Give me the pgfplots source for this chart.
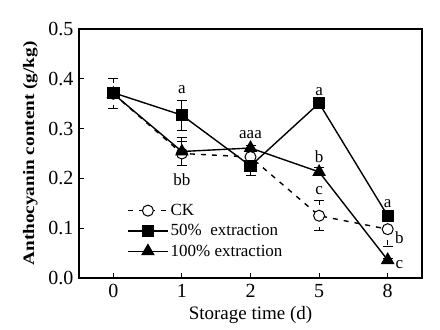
\documentclass[border=0pt]{standalone}
\usepackage{pgfplots}
\pgfplotsset{compat=1.18}
\usepackage{fontspec}
\setmainfont{Liberation Serif}
\begin{document}
\begin{tikzpicture}
\begin{axis}[
  name=ax,
  scale only axis,
  width=343pt, height=249pt,
  xmin=-0.5, xmax=4.5,
  ymin=0, ymax=0.5,
  xtick={0,1,2,3,4},
  xticklabels={0,1,2,5,8},
  ytick={0,0.1,0.2,0.3,0.4,0.5},
  yticklabel style={/pgf/number format/fixed,/pgf/number format/fixed zerofill,/pgf/number format/precision=1, xshift=-2pt},
  xticklabel style={yshift=-3pt},
  /pgf/number format/assume math mode=true,
  tick label style={font=\fontsize{20}{22}\selectfont},
  tick align=inside,
  tick pos=left,
  major tick length=5pt,
  axis line style={line width=1.3pt},
  tick style={line width=1pt, black},
  xlabel={Storage time (d)},
  xlabel style={font=\fontsize{19}{21}\selectfont, yshift=-1pt},
  ylabel={\scalebox{1.2}[1]{\bfseries Anthocyanin content (g/kg)}},
  ylabel style={font=\fontsize{16}{18}\selectfont, yshift=4pt},
  legend style={draw=none, fill=none, at={(0.14,0.305)}, anchor=north west,
    font=\fontsize{17}{19}\selectfont, row sep=3.5pt, inner sep=0pt,
    nodes={inner sep=2pt}},
  legend cell align=left,
  legend image code/.code={\draw[mark repeat=2,mark phase=2,#1] plot coordinates {(0pt,0pt) (20pt,0pt) (40pt,0pt)};},
  every axis plot/.append style={line width=1.4pt},
  error bars/error bar style={line width=1pt},
  error bars/error mark options={rotate=90, mark size=5pt, line width=1pt},
]
\addplot[black, dash pattern=on 5pt off 6pt, mark=*, mark options={solid, fill=white, line width=1pt}, mark size=5.5pt,
  error bars/.cd, y dir=both, y explicit]
  table[x=x, y=y, y error=e] {
x y e
0 0.370 0.030
1 0.250 0.024
2 0.243 0.015
3 0.125 0.030
4 0.098 0.035
};
\addlegendentry{CK}
\addplot[black, solid, mark=square*, mark size=5.5pt,
  error bars/.cd, y dir=both, y explicit]
  table[x=x, y=y, y error=e] {
x y e
0 0.372 0.004
1 0.327 0.030
2 0.225 0.020
3 0.351 0.004
4 0.125 0.004
};
\addlegendentry{50\%\ \ extraction}
\addplot[black, solid, mark=triangle*, mark size=6.5pt,
  error bars/.cd, y dir=both, y explicit]
  table[x=x, y=y, y error=e] {
x y e
0 0.370 0.004
1 0.254 0.029
2 0.261 0.005
3 0.213 0.008
4 0.036 0.004
};
\addlegendentry{100\% extraction}
\begin{scope}[every node/.style={font=\fontsize{17}{19}\selectfont}]
\node at (axis cs:1,0.378) {a};
\node at (axis cs:1,0.197) {bb};
\node at (axis cs:2,0.287) {aaa};
\node at (axis cs:3,0.375) {a};
\node at (axis cs:3,0.243) {b};
\node at (axis cs:3,0.175) {c};
\node at (axis cs:4,0.149) {a};
\node at (axis cs:4.17,0.08) {b};
\node at (axis cs:4.17,0.026) {c};
\end{scope}
\end{axis}
\pgfresetboundingbox
\path[use as bounding box] ([shift={(-79pt,-52pt)}]ax.south west) rectangle ([shift={(18pt,29pt)}]ax.north east);
\end{tikzpicture}
\end{document}
